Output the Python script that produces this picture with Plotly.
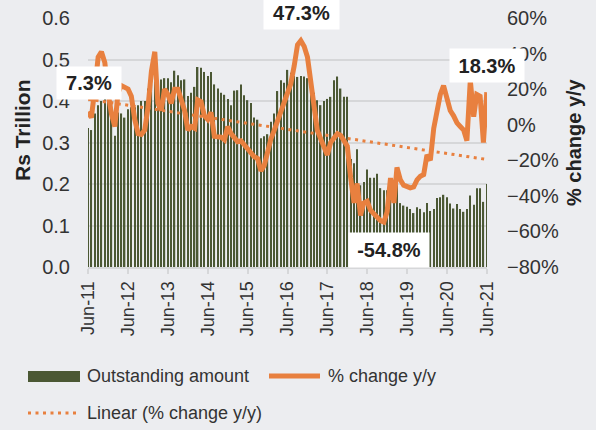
import numpy as np
import pandas as pd
import plotly.graph_objects as go

# ---------------- data ----------------
months = pd.date_range("2011-06-01", periods=121, freq="MS")

outstanding = [
    0.335, 0.33, 0.37, 0.39, 0.40, 0.41, 0.42, 0.40, 0.316, 0.372,
    0.37, 0.36, 0.38, 0.385, 0.385, 0.39, 0.40, 0.40, 0.43, 0.44,
    0.447, 0.45, 0.452, 0.455, 0.455, 0.445, 0.473, 0.462, 0.45, 0.452,
    0.412, 0.42, 0.434, 0.482, 0.48, 0.47, 0.46, 0.47, 0.44, 0.43,
    0.42, 0.415, 0.405, 0.39, 0.425, 0.426, 0.44, 0.414, 0.402, 0.395,
    0.36, 0.355, 0.31, 0.315, 0.32, 0.35, 0.37, 0.424, 0.45, 0.444,
    0.475, 0.468, 0.46, 0.458, 0.46, 0.459, 0.455, 0.427, 0.42, 0.402,
    0.39, 0.40, 0.405, 0.41, 0.45, 0.459, 0.43, 0.41, 0.41, 0.26,
    0.25, 0.284, 0.197, 0.205, 0.235, 0.215, 0.215, 0.225, 0.19, 0.185,
    0.185, 0.175, 0.17, 0.2, 0.154, 0.148, 0.145, 0.14, 0.13, 0.144,
    0.14, 0.132, 0.154, 0.135, 0.14, 0.166, 0.168, 0.174, 0.168, 0.153,
    0.141, 0.152, 0.14, 0.133, 0.14, 0.172, 0.15, 0.19, 0.19, 0.157,
    0.2,
]

pct_change = [
    7.3, 4, 20, 38, 41, 35, 18, 6, -1, 18,
    22, 21, 20, 16, 3, -5, -5.5, -3, 10, 30,
    41, 12, 8, 20, 17, 12, 20, 20, 15, 8,
    -3, -1, -2, 14, 13, 5, 3, 7, -6.5, -7,
    -7, -8.5, -1, -5, -7, -9.5, -9, -11.5, -14, -16,
    -18, -19, -26, -23, -14, -8, -3, 2, 6, 11,
    18, 23, 33, 45, 47.3, 44, 38, 25, 8, -3,
    -8, -13, -17, -10, -7.5, -5, -6, -9, -12, -30,
    -44, -33, -51, -44, -43, -48, -50, -53, -54, -54.8,
    -49, -30, -44, -24, -31, -34, -35, -35.5, -35, -31,
    -29, -28, -17, -20, -2, 8, 17, 22, 14, 8,
    5, 1, -1, -3, -9, 25, 4.5, 17, 16, -10,
    18.3,
]

tick_dates = pd.date_range("2011-06-01", "2021-06-01", freq="12MS")
tick_labels = ["Jun-11", "Jun-12", "Jun-13", "Jun-14", "Jun-15", "Jun-16",
               "Jun-17", "Jun-18", "Jun-19", "Jun-20", "Jun-21"]

callouts = ["7.3%", "47.3%", "-54.8%", "18.3%"]

# linear trendline of the % change series (least squares)
idx = np.arange(len(pct_change))
slope, intercept = np.polyfit(idx, pct_change, 1)
trend = slope * idx + intercept

# ---------------- styling ----------------
BAR = "#4B5834"
ORANGE = "#E8803F"
TXT = "#333333"
BG = "#ECEDF0"
GRID = "#D6D7D9"
FONT = "Liberation Sans, Arial, sans-serif"

L, R, T, B = 88, 487, 18, 267   # plot area in pixels
def px_x(x):
    return (x - L) / (R - L)
def px_y(y):
    return (B - y) / (B - T)

fig = go.Figure()
fig.add_trace(go.Bar(x=months, y=outstanding, name="Outstanding amount",
                     marker=dict(color=BAR, line=dict(width=0)), yaxis="y"))
fig.add_trace(go.Scatter(x=months, y=pct_change, name="% change y/y", mode="lines",
                         line=dict(color=ORANGE, width=5), yaxis="y2"))
fig.add_trace(go.Scatter(x=months, y=trend, name="Linear (% change y/y)", mode="lines",
                         line=dict(color=ORANGE, width=3, dash="3px,4.5px"), yaxis="y2"))

fig.update_layout(
    width=596, height=430, autosize=False,
    margin=dict(l=L, r=596 - R, t=T, b=430 - B, autoexpand=False),
    paper_bgcolor=BG, plot_bgcolor=BG,
    font=dict(family=FONT, color=TXT, size=18),
    showlegend=False,
    bargap=0.55,
    xaxis=dict(
        type="date", automargin=False,
        range=[pd.Timestamp("2011-05-31"), pd.Timestamp("2021-06-03")],
        tickvals=tick_dates, ticktext=tick_labels, tickangle=-90,
        ticks="outside", ticklen=5, tickwidth=2, tickcolor=GRID,
        showline=True, linecolor=GRID, linewidth=2,
        showgrid=False, zeroline=False,
        tickfont=dict(size=18, color=TXT),
    ),
    yaxis=dict(
        automargin=False,
        range=[0, 0.6], dtick=0.1, tickformat=".1f",
        showgrid=True, gridcolor=GRID, gridwidth=2, zeroline=False,
        ticks="", ticklabelstandoff=17,
        tickfont=dict(size=20, color=TXT),
    ),
    yaxis2=dict(
        automargin=False,
        overlaying="y", side="right",
        range=[-80, 60], dtick=20, ticksuffix="%",
        showgrid=False, zeroline=False, ticks="", ticklabelstandoff=19,
        tickfont=dict(size=20, color=TXT),
    ),
)

# axis titles
fig.add_annotation(xref="paper", yref="paper", x=px_x(22), y=px_y(130),
                   text="<b>Rs Trillion</b>", textangle=-90, showarrow=False,
                   font=dict(size=21, color="#222222"), xanchor="center", yanchor="middle")
fig.add_annotation(xref="paper", yref="paper", x=px_x(574), y=px_y(142),
                   text="<b>% change y/y</b>", textangle=-90, showarrow=False,
                   font=dict(size=20, color="#222222"), xanchor="center", yanchor="middle")

# value call-outs (white boxes)
box_pos = [(89, 83, 62, 30), (301.5, 13, 73, 30), (389, 250, 78, 32), (487, 65, 72, 31)]
for text, (cx, cy, w, h) in zip(callouts, box_pos):
    fig.add_annotation(xref="paper", yref="paper", x=px_x(cx), y=px_y(cy),
                       text=f"<b>{text}</b>", showarrow=False, bgcolor="white",
                       width=w, height=h, font=dict(size=20, color="#222222"),
                       xanchor="center", yanchor="middle")

# custom legend below the chart
fig.add_shape(type="rect", xref="paper", yref="paper",
              x0=px_x(28), x1=px_x(80), y0=px_y(371), y1=px_y(382),
              fillcolor=BAR, line=dict(width=0))
fig.add_shape(type="line", xref="paper", yref="paper",
              x0=px_x(269), x1=px_x(320), y0=px_y(376), y1=px_y(376),
              line=dict(color=ORANGE, width=5))
fig.add_shape(type="line", xref="paper", yref="paper",
              x0=px_x(28), x1=px_x(78), y0=px_y(413), y1=px_y(413),
              line=dict(color=ORANGE, width=3, dash="3px,4.5px"))
for text, x, y in [("Outstanding amount", 85, 376), ("% change y/y", 326, 376),
                   ("Linear (% change y/y)", 85, 413)]:
    fig.add_annotation(xref="paper", yref="paper", x=px_x(x), y=px_y(y), text=text,
                       showarrow=False, xanchor="left", yanchor="middle",
                       font=dict(size=18, color=TXT))

fig.write_html("out.html", config={"displayModeBar": False},
               post_script="document.body.style.margin='0';document.body.style.overflow='hidden';")
